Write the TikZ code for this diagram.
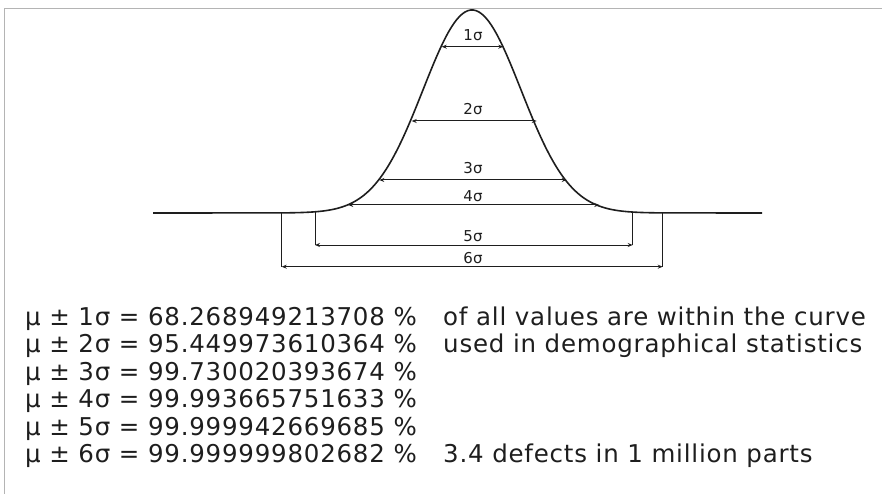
\documentclass[tikz,border=0pt]{standalone}
\usepackage{fontspec}
\setmainfont{DejaVu Sans}
\usetikzlibrary{arrows.meta,positioning}
\definecolor{frame}{HTML}{B4B4B4}
\definecolor{ink}{HTML}{1E1E1E}

\begin{document}
\begin{tikzpicture}[
  x=1pt, y=-1pt,
  curve/.style={line width=1.6pt, ink},
  dimarr/.style={{Stealth[length=5pt,width=4pt]}-{Stealth[length=5pt,width=4pt]}, line width=1pt, ink},
  tick/.style={line width=1pt, ink},
  siglbl/.style={font=\fontsize{15}{15}\selectfont\addfontfeature{LetterSpace=3}, text=ink, inner sep=0pt, anchor=base},
  row/.style={font=\fontsize{24.5}{27}\selectfont\addfontfeature{LetterSpace=3.2}, text=ink, inner sep=0pt, anchor=base west}
]
  \useasboundingbox (0,0) rectangle (882,494);

  % Frame
  \draw[frame, line width=1.5pt] (4.3,494) -- (4.3,8.3) -- (882,8.3);

  % Bell curve
  \coordinate (footL) at (153,213);
  \coordinate (footR) at (762,213);
  \draw[curve] (footL) -- plot[domain=282:662, samples=140, smooth]
    (\x,{213-203*exp(-0.5*((\x-472)/49)^2)}) -- (footR);

  % Width arrows
  \coordinate (a1) at (441.7,46.7);  \coordinate (b1) at (503.3,46.7);
  \coordinate (a2) at (411.7,121);   \coordinate (b2) at (536.7,121);
  \coordinate (a3) at (379.3,180);   \coordinate (b3) at (566.7,180);
  \coordinate (a4) at (348.3,205);   \coordinate (b4) at (599.3,205);
  \draw[dimarr] (a1) -- (b1);
  \draw[dimarr] (a2) -- (b2);
  \draw[dimarr] (a3) -- (b3);
  \draw[dimarr] (a4) -- (b4);

  % Ticks below the tails
  \coordinate (t5l) at (315,212);   \coordinate (a5) at (315,245);
  \coordinate (t5r) at (632.7,213); \coordinate (b5) at (632.7,245);
  \coordinate (t6l) at (281.7,213); \coordinate (a6) at (281.7,266.7);
  \coordinate (t6r) at (662.7,213); \coordinate (b6) at (662.7,266.7);
  \draw[tick] (t5l) -- (a5);
  \draw[tick] (t5r) -- (b5);
  \draw[tick] (t6l) -- (a6);
  \draw[tick] (t6r) -- (b6);
  \draw[dimarr] (a5) -- (b5);
  \draw[dimarr] (a6) -- (b6);

  % Labels
  \node[siglbl] (s1) at (473,40.7) {1σ};
  \node[siglbl] (s2) at (473,115) {2σ};
  \node[siglbl] (s3) at (473,173.3) {3σ};
  \node[siglbl] (s4) at (473,201.7) {4σ};
  \node[siglbl] (s5) at (473,241.7) {5σ};
  \node[siglbl] (s6) at (473,263.3) {6σ};

  % Table of values
  \node[row] (v1) at (25,325)   {μ ± 1σ = 68.268949213708 \%};
  \node[row] (v2) at (25,352.5) {μ ± 2σ = 95.449973610364 \%};
  \node[row] (v3) at (25,380)   {μ ± 3σ = 99.730020393674 \%};
  \node[row] (v4) at (25,407.5) {μ ± 4σ = 99.993665751633 \%};
  \node[row] (v5) at (25,435)   {μ ± 5σ = 99.999942669685 \%};
  \node[row] (v6) at (25,462.5) {μ ± 6σ = 99.999999802682 \%};

  \node[row] (n1) at (443,325)   {of all values are within the curve};
  \node[row] (n2) at (443,352.5) {used in demographical statistics};
  \node[row] (n6) at (443,462.5) {3.4 defects in 1 million parts};
\end{tikzpicture}
\end{document}
